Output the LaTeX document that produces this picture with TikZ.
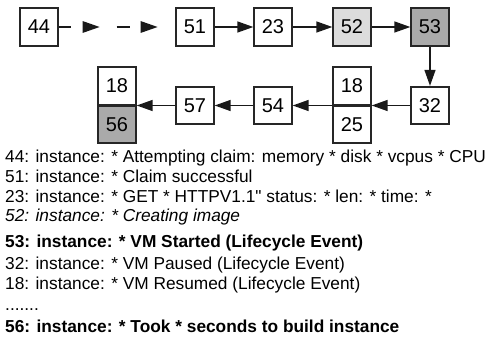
\documentclass[tikz,border=0pt]{standalone}
\usepackage{fontspec}
\setmainfont{Liberation Sans}[Ligatures=TeXOff]
\usetikzlibrary{arrows.meta,decorations.markings}
\definecolor{lightg}{HTML}{DCDCDC}
\definecolor{darkg}{HTML}{AAAAAA}
\begin{document}
\begin{tikzpicture}[x=1pt,y=-1pt,
  box/.style={draw=black!85,line width=1.8pt,minimum width=37.5pt,minimum height=37.5pt,inner sep=0pt,font=\fontsize{20}{24}\selectfont},
  conn/.style={line width=1.4pt,black!90,-{Triangle[length=16pt,width=11pt]}},
  logline/.style={anchor=base west,inner sep=0pt,font=\fontsize{17.3}{20}\selectfont}]
\useasboundingbox (0,0) rectangle (488,339);
% top row
\node[box] (n44) at (39,27) {44};
\node[box] (n51) at (195,27) {51};
\node[box] (n23) at (273,27) {23};
\node[box,fill=lightg] (n52) at (352,27) {52};
\node[box,fill=darkg] (n53) at (430,27) {53};
% bottom row
\node[box] (n32) at (430,105.5) {32};
\node[box] (n18b) at (352,86) {18};
\node[box] (n25) at (352,124.5) {25};
\node[box] (n54) at (273,105.5) {54};
\node[box] (n57) at (195,105.5) {57};
\node[box] (n18c) at (117,86) {18};
\node[box,fill=darkg] (n56) at (117,124.5) {56};
% connectors
\draw[line width=1.4pt,black!90,dash pattern=on 12pt off 46pt on 13pt off 60pt,
  decoration={markings,
    mark=at position 41pt with {\arrow{Triangle[length=17pt,width=11.5pt]}},
    mark=at position 99pt with {\arrow{Triangle[length=17pt,width=11.5pt]}}},
  postaction={decorate}] (n44.east) -- (n51.west);
\draw[conn] (n51) -- (n23);
\draw[conn] (n23) -- (n52);
\draw[conn] (n52) -- (n53);
\draw[conn] (n53) -- (n32);
\draw[conn] (n32.west) -- (n32.west -| n18b.east);
\draw[conn] (n18b.south west |- n54.east) -- (n54.east);
\draw[conn] (n54) -- (n57);
\draw[conn] (n57.west) -- (n57.west -| n18c.east);
% log lines
\node[logline] (l1) at (5,163) {44: instance: * Attempting claim: memory * disk * vcpus * CPU};
\node[logline] (l2) at (5,183) {51: instance: * Claim successful};
\node[logline] (l3) at (5,202.5) {23: instance: * GET * HTTPV1.1" status: * len: * time: *};
\node[logline,font=\fontsize{17.3}{20}\selectfont\itshape] (l4) at (5,222) {52: instance: * Creating image};
\node[logline,font=\fontsize{17.3}{20}\selectfont\bfseries] (l5) at (5,248) {53: instance: * VM Started (Lifecycle Event)};
\node[logline] (l6) at (5,270) {32: instance: * VM Paused (Lifecycle Event)};
\node[logline] (l7) at (5,290) {18: instance: * VM Resumed (Lifecycle Event)};
\node[logline] (l8) at (5,311) {.......};
\node[logline,font=\fontsize{17.3}{20}\selectfont\bfseries] (l9) at (5,333) {56: instance: * Took * seconds to build instance};
\end{tikzpicture}
\end{document}
